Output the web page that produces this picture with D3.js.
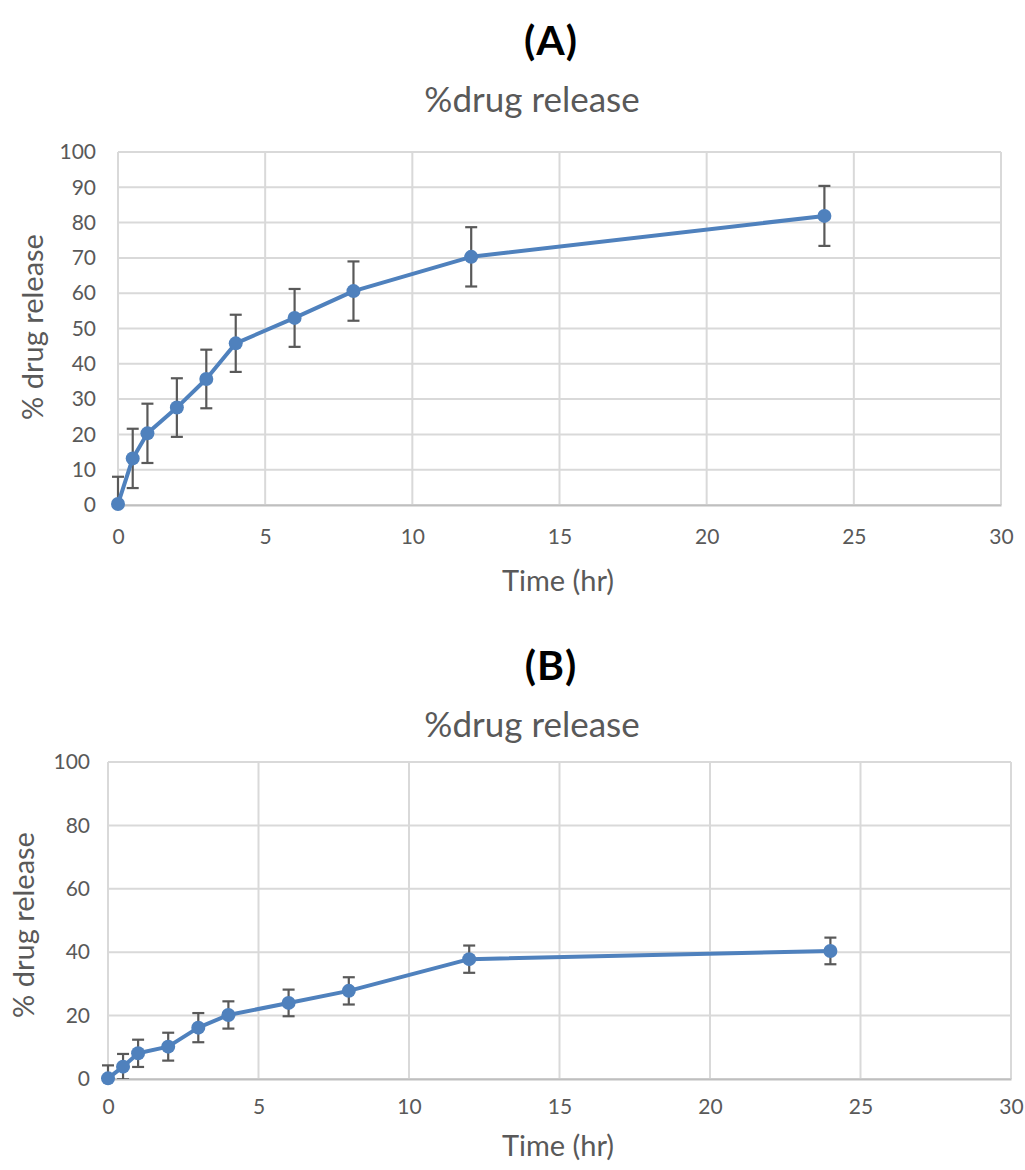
<!DOCTYPE html>
<html><head><meta charset="utf-8">
<script src="https://cdn.jsdelivr.net/npm/d3@7"></script>
<style>body{margin:0;background:#fff}svg{display:block}</style>
</head><body>
<svg id="c" width="1025" height="1170"></svg>
<script>
const timeHr = [0, 0.5, 1, 2, 3, 4, 6, 8, 12, 24];
const releaseA = [0.3, 13.2, 20.3, 27.6, 35.7, 45.8, 53.0, 60.6, 70.3, 81.9];
const errorA = [7.7, 8.4, 8.4, 8.3, 8.3, 8.1, 8.2, 8.4, 8.4, 8.5];
const releaseB = [0.2, 3.9, 8.1, 10.2, 16.2, 20.2, 24.0, 27.8, 37.8, 40.4];
const errorB = [4.1, 4.0, 4.3, 4.4, 4.6, 4.3, 4.2, 4.3, 4.3, 4.2];
const xTicks = [0, 5, 10, 15, 20, 25, 30];
const yTicksA = [0, 10, 20, 30, 40, 50, 60, 70, 80, 90, 100];
const yTicksB = [0, 20, 40, 60, 80, 100];

const svg = d3.select("#c");
const font = "Lato, 'Open Sans', sans-serif";
const gray = "#595959";

function panel(o) {
  const x = d3.scaleLinear().domain([0, 30]).range([o.left, o.right]);
  const y = d3.scaleLinear().domain([0, 100]).range([o.bottom, o.top]);
  const g = svg.append("g");
  g.append("text").attr("x", o.labelX).attr("y", o.labelY).attr("text-anchor", "middle")
    .attr("font-family", font).attr("font-weight", "bold").attr("font-size", 41)
    .attr("letter-spacing", 1).attr("fill", "#000").text(o.label);
  g.append("text").attr("x", o.titleX).attr("y", o.titleY).attr("text-anchor", "middle")
    .attr("font-family", font).attr("font-size", 35).attr("fill", gray).text("%drug release");
  g.append("g").selectAll("line").data(o.yTicks).join("line")
    .attr("x1", o.left).attr("x2", o.right).attr("y1", d => y(d)).attr("y2", d => y(d))
    .attr("stroke", "#d9d9d9").attr("stroke-width", 2);
  g.append("g").selectAll("line").data(xTicks).join("line")
    .attr("x1", d => x(d)).attr("x2", d => x(d)).attr("y1", o.top).attr("y2", o.bottom)
    .attr("stroke", "#d9d9d9").attr("stroke-width", 2);
  const xa = g.append("g").attr("transform", `translate(0,${o.bottom})`)
    .call(d3.axisBottom(x).tickValues(xTicks).tickSize(0).tickPadding(o.xPad));
  xa.select(".domain").attr("stroke", "#bfbfbf").attr("stroke-width", 2);
  xa.selectAll("text").attr("font-family", font).attr("font-size", 21).attr("fill", gray);
  const ya = g.append("g").attr("transform", `translate(${o.left},0)`)
    .call(d3.axisLeft(y).tickValues(o.yTicks).tickSize(0).tickPadding(o.yPad));
  ya.select(".domain").remove();
  ya.selectAll("text").attr("font-family", font).attr("font-size", 21).attr("fill", gray);
  g.append("text").attr("x", o.xtX).attr("y", o.xtY).attr("text-anchor", "middle")
    .attr("font-family", font).attr("font-size", 29).attr("fill", gray).text("Time (hr)");
  g.append("text").attr("transform", `translate(${o.ytX},${o.ytY}) rotate(-90)`).attr("text-anchor", "middle")
    .attr("font-family", font).attr("font-size", 29).attr("fill", gray).text("% drug release");
  const cid = "clip" + o.label.replace(/\W/g, "");
  svg.append("clipPath").attr("id", cid).append("rect")
    .attr("x", o.left - 20).attr("y", o.top - 20).attr("width", o.right - o.left + 40).attr("height", o.bottom - o.top + 20);
  const data = timeHr.map((t, i) => ({t, v: o.values[i], e: o.errors[i]}));
  const eg = g.append("g").attr("clip-path", `url(#${cid})`);
  const bars = eg.selectAll("g.eb").data(data).join("g").attr("class", "eb");
  bars.append("line").attr("x1", d => x(d.t)).attr("x2", d => x(d.t))
    .attr("y1", d => y(d.v + d.e)).attr("y2", d => y(d.v - d.e)).attr("stroke", gray).attr("stroke-width", 2.2);
  bars.append("line").attr("x1", d => x(d.t) - 6).attr("x2", d => x(d.t) + 6)
    .attr("y1", d => y(d.v + d.e)).attr("y2", d => y(d.v + d.e)).attr("stroke", gray).attr("stroke-width", 2.2);
  bars.append("line").attr("x1", d => x(d.t) - 6).attr("x2", d => x(d.t) + 6)
    .attr("y1", d => y(d.v - d.e)).attr("y2", d => y(d.v - d.e)).attr("stroke", gray).attr("stroke-width", 2.2);
  g.append("path").datum(data).attr("fill", "none").attr("stroke", "#4f81bd").attr("stroke-width", 4)
    .attr("stroke-linejoin", "round")
    .attr("d", d3.line().x(d => x(d.t)).y(d => y(d.v)));
  g.append("g").selectAll("circle").data(data).join("circle")
    .attr("cx", d => x(d.t)).attr("cy", d => y(d.v)).attr("r", 7).attr("fill", "#4f81bd");
}

panel({label: "(A)", labelX: 551, labelY: 55, titleX: 532, titleY: 112,
  left: 118, right: 1001, top: 152, bottom: 505, yTicks: yTicksA, values: releaseA, errors: errorA,
  yPad: 22, xPad: 24, xtX: 558, xtY: 591, ytX: 43, ytY: 327});
panel({label: "(B)", labelX: 551, labelY: 680, titleX: 532, titleY: 737,
  left: 108, right: 1011, top: 762, bottom: 1079, yTicks: yTicksB, values: releaseB, errors: errorB,
  yPad: 18, xPad: 20, xtX: 558, xtY: 1156, ytX: 34, ytY: 925});
</script>
</body></html>
